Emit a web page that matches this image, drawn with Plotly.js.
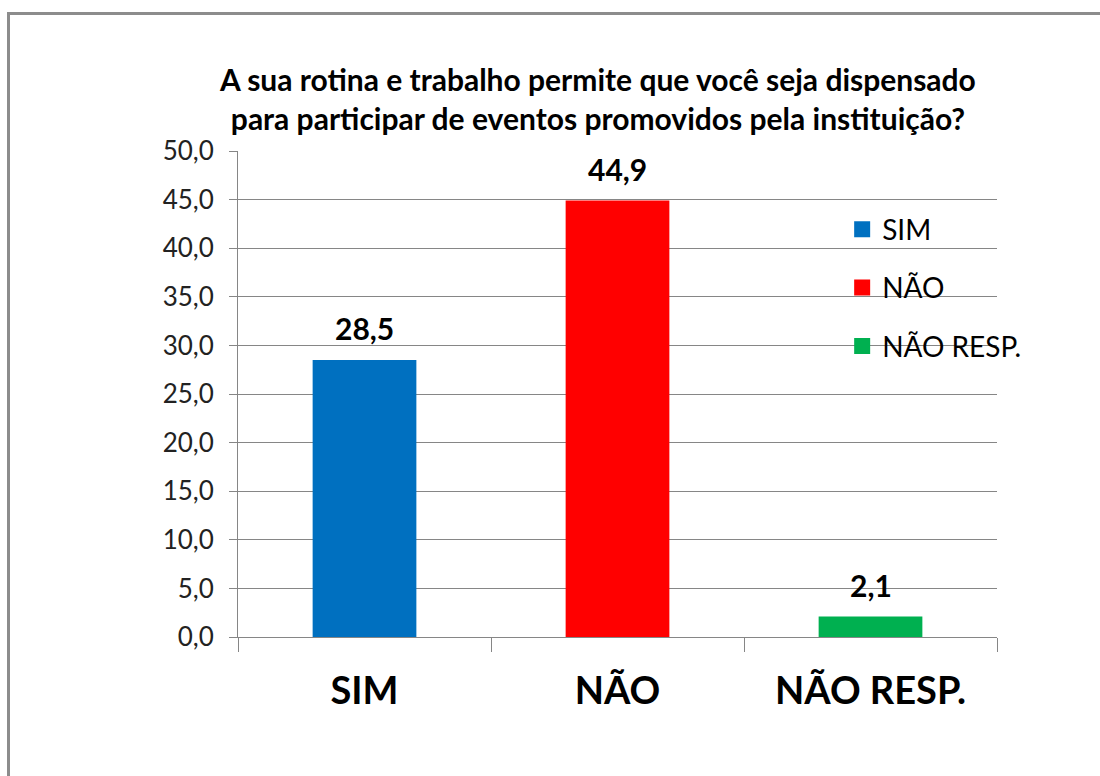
<!DOCTYPE html>
<html>
<head>
<meta charset="utf-8">
<script src="https://cdn.plot.ly/plotly-3.0.1.min.js"></script>
<style>
  html, body { margin: 0; padding: 0; background: #ffffff; overflow: hidden; }
  #chart { width: 1100px; height: 776px; position: absolute; left: 0; top: 0; }
  #frame { position: absolute; left: 7px; top: 12px; width: 1200px; height: 900px;
           border: 3px solid #8c8c8c; pointer-events: none; }
</style>
</head>
<body>
<div id="chart"></div>
<div id="frame"></div>
<script>
const categories = ["SIM", "NÃO", "NÃO RESP."];
const values = [28.5, 44.9, 2.1];
const colors = ["#0070C0", "#FF0000", "#00B050"];
const yTicks = [0, 5, 10, 15, 20, 25, 30, 35, 40, 45, 50];
const titleText = "A sua rotina e trabalho permite que você seja dispensado<br>para participar de eventos promovidos pela instituição?";

const FONT = "Lato, 'Open Sans', sans-serif";

const traces = [];
categories.forEach((c, i) => {
  traces.push({
    type: "bar",
    x: [c],
    y: [values[i]],
    width: 0.41,
    marker: { color: colors[i], line: { width: 0 } },
    showlegend: false,
    hoverinfo: "x+y"
  });
});
categories.forEach((c, i) => {
  traces.push({
    type: "scatter",
    mode: "markers",
    x: [null],
    y: [null],
    name: c,
    legendgroup: "g" + i,
    marker: { symbol: "square", size: 19, color: colors[i] },
    showlegend: true
  });
});

const annotations = categories.map((c, i) => ({
  x: c,
  y: values[i],
  xref: "x",
  yref: "y",
  text: values[i].toFixed(1).replace(".", ","),
  showarrow: false,
  yanchor: "bottom",
  yshift: 12,
  font: { family: FONT, size: 30, color: "#000000", weight: "bold" }
}));

const layout = {
  width: 1100,
  height: 776,
  margin: { l: 238, r: 103, t: 151, b: 139 },
  paper_bgcolor: "#ffffff",
  plot_bgcolor: "#ffffff",
  separators: ",.",
  barmode: "overlay",
  font: { family: FONT, color: "#000000" },
  title: {
    text: titleText,
    font: { family: FONT, size: 30, color: "#000000", weight: "bold" },
    xref: "container",
    yref: "container",
    x: 0.5436,
    xanchor: "center",
    y: 0.883,
    yanchor: "middle"
  },
  xaxis: {
    type: "category",
    categoryorder: "array",
    categoryarray: categories,
    tickson: "boundaries",
    ticks: "outside",
    ticklen: 14,
    tickcolor: "#868686",
    tickwidth: 1,
    showline: true,
    linecolor: "#868686",
    linewidth: 1,
    showgrid: false,
    zeroline: false,
    tickfont: { family: FONT, size: 38, color: "#000000", weight: "bold" },
    ticklabelstandoff: 20,
    range: [-0.5, 2.5],
    fixedrange: true
  },
  yaxis: {
    range: [0, 50],
    tickvals: yTicks,
    tickformat: ".1f",
    ticks: "outside",
    ticklen: 8,
    tickcolor: "#868686",
    tickwidth: 1,
    showline: true,
    linecolor: "#868686",
    linewidth: 1,
    showgrid: true,
    gridcolor: "#868686",
    gridwidth: 1,
    zeroline: false,
    tickfont: { family: FONT, size: 26, color: "#222222" },
    ticklabelstandoff: 10,
    fixedrange: true
  },
  showlegend: true,
  legend: {
    x: 0.796,
    xanchor: "left",
    y: 0.89,
    yanchor: "top",
    bgcolor: "rgba(0,0,0,0)",
    borderwidth: 0,
    traceorder: "grouped",
    tracegroupgap: 19,
    font: { family: FONT, size: 28, color: "#000000" },
    itemclick: false,
    itemdoubleclick: false
  },
  annotations: annotations
};

Plotly.newPlot("chart", traces, layout, { displayModeBar: false, staticPlot: true });
</script>
</body>
</html>
